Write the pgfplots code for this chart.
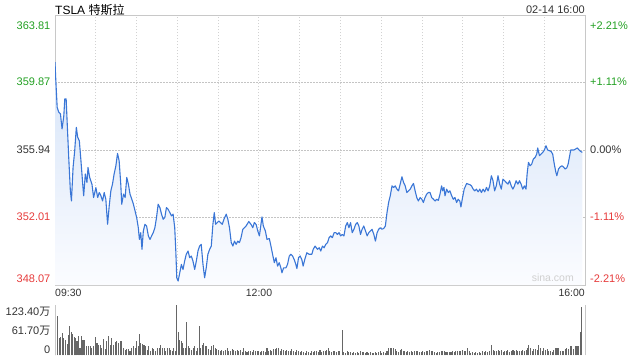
\documentclass[border=0pt]{standalone}
\usepackage{pgfplots}
\usepackage{pgfplotstable}
\pgfplotsset{compat=1.18}
\usepackage{fontspec}
\setmainfont{Liberation Sans}
\newfontfamily\cjk{Noto Sans CJK SC}
\definecolor{linec}{HTML}{3A76D6}
\definecolor{gridc}{HTML}{D2D2D2}
\definecolor{hgridc}{HTML}{C4C4C4}
\definecolor{midc}{HTML}{A8A8A8}
\definecolor{borderc}{HTML}{C8C8C8}
\definecolor{upc}{HTML}{22A022}
\definecolor{downc}{HTML}{E63B3B}
\definecolor{txtc}{HTML}{333333}
\definecolor{fillt}{HTML}{D6E4F8}
\definecolor{fillb}{HTML}{FBFCFF}
\definecolor{volc}{HTML}{666666}
\definecolor{wmc}{HTML}{D0D0D0}

\pgfplotstableread{
m p
0 361.06
0.6 359.99
1.6 358.43
2.8 358.14
4.0 358.05
5.2 357.17
6.5 357.95
7.2 358.92
8.2 358.92
8.9 357.65
10.1 355.51
11.3 353.56
12.1 352.97
13.3 354.92
14.5 355.90
15.7 357.26
16.7 356.68
17.9 356.48
19.1 355.31
20.4 353.95
21.1 353.27
22.3 354.54
23.5 354.05
24.3 354.92
25.5 354.34
27.2 353.95
28.4 353.17
30.1 353.75
31.4 353.17
32.6 353.46
33.8 353.27
35.0 352.97
36.2 353.46
37.4 353.07
38.7 351.61
39.9 352.68
41.1 353.56
42.3 353.95
43.5 354.54
44.8 355.02
46.0 355.74
47.2 355.31
48.4 353.95
49.1 352.78
50.4 353.37
51.6 353.17
52.8 354.34
54.0 353.95
55.2 353.37
56.5 353.07
57.7 352.78
58.9 352.39
60.1 352.00
61.3 351.41
62.1 350.73
63.1 351.12
64.0 350.15
65.0 351.22
66.2 351.61
67.4 351.51
68.7 350.93
69.9 350.73
71.1 350.93
72.3 351.12
73.5 351.41
74.7 352.00
75.9 352.78
77.2 352.58
78.4 352.20
79.6 351.90
80.8 352.00
82.0 352.58
83.2 352.49
84.5 352.29
85.7 352.10
86.9 352.20
88.1 351.41
88.9 350.05
89.6 348.49
90.6 348.30
91.8 348.78
93.0 349.27
94.2 348.97
95.4 349.47
96.6 349.86
97.9 350.05
99.1 349.66
100.3 349.76
101.5 349.47
102.8 348.98
104.0 349.47
105.2 350.05
106.4 350.34
107.6 350.44
108.9 349.27
110.1 348.49
111.3 349.08
112.5 349.86
113.8 350.15
115.0 350.34
116.2 351.61
117.2 352.29
118.2 351.61
119.4 351.71
120.6 351.80
121.8 351.71
123.1 351.61
124.3 351.90
126.0 352.20
127.2 351.90
128.4 351.41
129.7 350.54
130.9 350.34
132.1 350.63
133.3 350.44
134.5 350.63
135.7 350.54
136.9 350.83
138.2 351.32
139.4 351.41
140.6 351.51
142.6 351.77
144.3 351.60
145.5 351.41
146.7 351.71
148.0 351.60
149.2 351.22
150.4 350.93
151.4 351.51
152.3 352.04
153.3 351.51
154.8 351.22
156.0 350.73
157.7 350.78
158.9 350.34
160.1 349.86
161.4 349.37
162.6 349.66
163.8 349.17
165.0 349.37
166.2 349.07
167.0 348.78
168.2 349.07
169.9 349.07
171.1 349.27
172.4 349.76
173.6 349.86
174.8 349.76
176.0 349.56
177.2 349.27
178.0 349.03
179.2 349.66
180.4 349.76
181.6 349.56
182.6 349.17
183.8 349.56
185.3 349.95
187.0 349.86
189.0 349.86
190.0 350.15
191.4 350.34
193.2 350.15
194.4 350.24
195.6 350.05
196.8 350.34
198.0 350.24
199.2 350.44
200.5 350.54
201.7 350.83
202.9 350.93
204.1 350.83
205.4 351.12
206.6 351.12
207.8 351.02
209.0 351.12
210.2 350.93
211.4 351.02
212.6 350.93
213.9 351.51
215.1 351.71
216.3 351.41
217.5 351.71
218.7 351.12
220.0 351.32
221.2 351.60
222.4 351.71
223.6 351.51
224.8 351.02
226.0 351.32
227.2 351.51
228.5 351.22
229.7 350.93
230.9 351.12
232.1 351.22
233.3 351.32
234.6 351.02
235.8 350.63
237.0 351.12
238.2 351.32
239.4 351.41
240.6 351.32
241.9 351.37
243.1 351.51
244.3 352.29
245.5 352.88
246.7 353.27
248.0 353.85
249.2 353.76
250.4 353.85
251.6 353.66
252.8 353.56
254.0 353.95
255.3 354.38
256.5 354.05
257.7 353.85
258.9 353.46
260.1 353.56
261.4 353.66
262.6 353.85
263.8 353.99
265.0 353.56
266.2 353.17
267.4 352.97
268.7 353.17
269.9 353.07
271.1 352.88
272.3 353.17
273.5 353.37
274.7 353.46
276.0 353.46
277.2 353.17
278.5 353.07
279.7 352.97
280.9 353.07
282.1 353.00
283.3 353.37
284.5 353.85
285.3 353.56
286.2 353.76
287.0 353.27
288.2 353.66
289.4 353.46
290.6 353.56
291.9 353.27
293.1 353.07
294.3 353.17
295.5 352.88
296.7 353.07
297.9 352.97
298.7 352.62
299.9 353.17
301.1 353.66
302.9 353.99
304.1 353.95
305.3 353.92
306.5 353.85
307.7 353.66
308.9 353.56
310.1 353.66
311.4 353.50
312.6 353.66
313.8 353.46
315.0 353.66
316.2 353.50
317.5 353.76
318.7 353.56
319.9 353.85
321.1 354.44
322.3 354.15
323.5 353.56
324.7 353.85
326.0 354.44
327.2 353.95
328.4 353.66
329.6 354.24
330.8 354.15
332.0 354.05
333.3 353.95
334.5 354.15
335.7 353.85
336.9 353.66
338.1 353.85
339.3 354.15
340.6 353.95
341.8 354.15
343.0 353.95
344.2 353.66
345.4 353.85
346.6 353.66
347.4 354.54
348.4 355.22
349.6 355.02
350.8 355.12
352.0 355.41
353.3 355.51
354.5 355.71
355.2 356.06
356.5 355.61
357.7 355.71
358.9 355.80
360.1 355.94
361.3 356.19
362.5 355.94
363.8 355.90
365.0 355.86
366.2 355.71
367.4 355.12
368.6 354.63
369.3 354.44
370.5 354.83
371.7 354.95
373.0 355.02
374.2 354.95
375.4 354.83
376.6 354.90
377.6 355.12
378.5 355.51
379.5 355.94
380.7 355.94
381.9 355.94
383.1 356.00
384.4 356.06
385.6 355.94
386.8 355.86
388.0 355.80
}\price

\pgfplotstableread{
m v
0.5 121.8
2.1 95
3.05 42
4.0 44
5.25 54
6.2 41
7.7 38
8.9 28
10.1 49
10.9 71
11.8 57
13.1 52
14.0 44
15.2 42
16.2 36
17.2 46
18.4 19
19.4 46
20.6 38
21.8 38
23.5 22
24.8 22
26.0 22
27.2 18
28.4 22
29.6 44
30.9 30
32.1 26
33.3 24
34.5 18
35.7 40
36.9 16
38.2 36
39.4 46
40.6 26
41.8 41
43.0 26
44.3 32
45.5 36
46.7 30
47.9 34
49.1 36
50.4 18
51.6 14
52.8 16
54.0 16
55.2 11
56.5 18
57.7 22
58.9 18
60.1 34
61.3 22
62.1 52
63.1 30
64.3 28
65.5 26
66.7 22
67.9 14
69.1 22
70.4 10
71.6 19
72.8 16
74.3 10
75.2 18
76.7 19
77.9 24
79.1 18
80.4 19
81.6 11
82.8 18
84.0 19
85.0 14
86.2 10
87.4 18
88.7 10
89.6 123
90.9 58
91.8 38
92.8 34
93.8 30
94.8 18
96.0 19
97.0 81
98.0 22
99.2 18
100.4 14
101.6 18
102.8 22
104.0 11
105.0 18
106.0 71
107.0 19
108.2 24
109.4 30
110.6 22
111.8 22
113.1 16
114.3 14
115.5 22
116.7 24
117.9 19
119.1 16
120.4 14
121.6 11
122.8 14
124.0 11
125.5 14
126.7 18
127.9 10
129.1 11
130.4 16
131.6 14
132.8 10
134.0 14
135.2 10
136.5 14
137.7 8
138.9 18
140.1 11
141.3 8
142.6 11
143.8 10
145.0 8
146.2 14
147.4 10
148.7 11
149.9 10
151.1 8
152.3 11
153.5 10
154.75 8
156.0 18
157.2 10
158.4 14
159.6 11
160.8 16
162.1 16
163.3 18
164.5 19
165.7 11
166.9 16
168.2 14
169.4 10
170.6 14
171.8 10
173.0 10
174.3 16
175.5 10
176.7 8
177.9 14
179.1 10
180.4 8
181.6 10
182.8 8
184.0 6
185.2 10
186.5 8
187.7 6
188.9 10
190.1 8
191.3 11
192.6 10
193.8 8
195.0 14
196.2 8
197.4 11
198.7 10
199.9 14
201.1 18
202.3 11
203.5 8
204.8 10
206.0 10
207.2 8
208.4 11
209.6 10
211.3 62
212.6 8
213.8 6
215.0 11
216.2 7
217.4 8
218.7 6
219.9 7
221.1 6
222.3 8
223.5 6
224.8 10
226.0 7
227.2 8
228.4 6
229.6 7
230.8 6
232.1 8
233.3 6
234.5 6
235.7 8
236.9 6
238.2 8
239.4 11
240.6 6
241.8 7
243.0 6
244.3 10
245.5 19
246.7 18
247.9 19
249.1 18
250.4 16
251.6 11
252.8 8
254.0 14
255.2 16
256.5 10
257.2 11
258.5 8
259.7 10
260.9 8
262.1 11
263.3 8
264.5 11
265.8 10
267.0 11
268.2 8
269.4 8
270.6 10
271.9 8
273.1 10
274.3 11
275.5 14
276.7 10
278.0 11
279.2 8
280.4 6
281.6 8
282.8 7
284.1 10
285.3 11
286.5 10
287.7 8
288.9 7
290.2 8
291.4 8
292.6 10
293.8 8
295.0 11
296.3 11
297.5 10
298.7 11
299.9 14
301.1 10
302.4 11
303.6 19
304.8 10
306.0 6
307.2 8
308.5 6
309.7 8
310.9 6
312.1 8
313.3 6
314.5 10
315.8 8
317.0 10
318.2 8
319.4 11
321.1 24
322.4 14
323.6 11
324.8 11
326.0 14
327.2 10
328.5 14
329.7 8
330.9 10
332.1 11
333.3 14
334.5 8
335.8 10
337.0 14
338.2 11
339.4 13
340.6 10
341.9 11
343.1 10
344.3 14
345.5 10
346.7 14
348.0 19
348.7 24
349.9 18
351.1 11
352.4 16
353.6 16
354.8 14
356.0 24
357.2 18
358.5 11
359.7 19
360.9 14
362.1 16
363.3 11
364.5 10
365.8 7
367.0 14
368.2 19
369.4 18
370.6 18
371.9 11
373.1 11
374.3 11
375.5 16
376.7 18
378.0 16
379.2 22
380.4 22
381.6 16
382.8 22
384.1 22
385.3 22
386.5 57
387.6 117
}\volume

\begin{document}
\begin{tikzpicture}[x=1pt,y=1pt]
\useasboundingbox (0,0) rectangle (640,360);
% ---------- price panel ----------
\begin{axis}[at={(55pt,75pt)},anchor=south west,scale only axis,
  width=530pt,height=270pt,
  xmin=0,xmax=390,ymin=348.07,ymax=363.81,
  axis line style={draw=borderc,line width=0.8pt},
  xtick={30,60,...,360}, ytick={352.01,359.87},
  xticklabels={}, yticklabels={},
  major tick length=0pt,
  grid=major,
  x grid style={draw=gridc,line width=0.7pt,dash pattern=on 1pt off 2pt},
  y grid style={draw=hgridc,line width=0.8pt,dash pattern=on 1.5pt off 1.5pt},
  extra y ticks={355.94}, extra y tick labels={},
  extra y tick style={grid=major,major grid style={draw=midc,line width=0.8pt,dash pattern=on 3pt off 2pt}},
  axis on top=false]
\addplot[draw=none,top color=fillt,bottom color=fillb] table[x=m,y=p]{\price}
  -- (axis cs:388,348.07) -- (axis cs:0,348.07) -- cycle;
\addplot[linec,line width=1.1pt,line join=round,mark=none] table[x=m,y=p]{\price};
\end{axis}
% ---------- volume panel ----------
\begin{axis}[at={(55pt,4.7pt)},anchor=south west,scale only axis,
  width=530pt,height=50.6pt,
  xmin=0,xmax=390,ymin=0,ymax=123.4,
  axis lines=none,
  xtick=\empty, ytick={61.7,123.4}, yticklabels={},
  major tick length=0pt,
  ymajorgrids,
  y grid style={draw=hgridc,line width=1pt,dash pattern=on 1pt off 1pt},
  clip=false]
\addplot[ycomb,volc,line width=1.05pt,mark=none] table[x=m,y=v]{\volume};
\draw[borderc,line width=0.8pt] (rel axis cs:0,0) -- (rel axis cs:0,1);
\draw[borderc,line width=0.8pt] (rel axis cs:1,0) -- (rel axis cs:1,1);
\end{axis}
% ---------- texts ----------
\node[anchor=base west,inner sep=0,text=black,font=\fontsize{12}{14}\selectfont] at (55,346) {TSLA {\cjk 特斯拉}};
\node[anchor=base east,inner sep=0,text=txtc,font=\fontsize{11}{13}\selectfont] at (585,346.5) {02-14 16:00};
\begin{scope}[every node/.style={inner sep=0,font=\fontsize{11}{13}\selectfont}]
\node[anchor=base east,text=upc] at (50.5,330.5) {363.81};
\node[anchor=base east,text=upc] at (50.5,274.2) {359.87};
\node[anchor=base east,text=txtc] at (50.5,206.7) {355.94};
\node[anchor=base east,text=downc] at (50.5,139.3) {352.01};
\node[anchor=base east,text=downc] at (50.5,78) {348.07};
\node[anchor=base west,text=upc] at (590,330.5) {+2.21\%};
\node[anchor=base west,text=upc] at (590,274.2) {+1.11\%};
\node[anchor=base west,text=txtc] at (590,206.7) {0.00\%};
\node[anchor=base west,text=downc] at (590,139.3) {-1.11\%};
\node[anchor=base west,text=downc] at (590,78) {-2.21\%};
\node[anchor=base east,text=txtc] at (50.5,45) {123.40{\cjk 万}};
\node[anchor=base east,text=txtc] at (50.5,26) {61.70{\cjk 万}};
\node[anchor=base east,text=txtc] at (50.5,7) {0};
\end{scope}
\begin{scope}[every node/.style={inner sep=0,text=txtc,font=\fontsize{10.5}{12}\selectfont}]
\node[anchor=base west] at (55,64) {09:30};
\node[anchor=base] at (259,64) {12:00};
\node[anchor=base east] at (585,64) {16:00};
\end{scope}
\node[anchor=base east,inner sep=0,text=wmc,font=\fontsize{10.5}{12}\selectfont] at (574,78.5) {sina.com};
\end{tikzpicture}
\end{document}
